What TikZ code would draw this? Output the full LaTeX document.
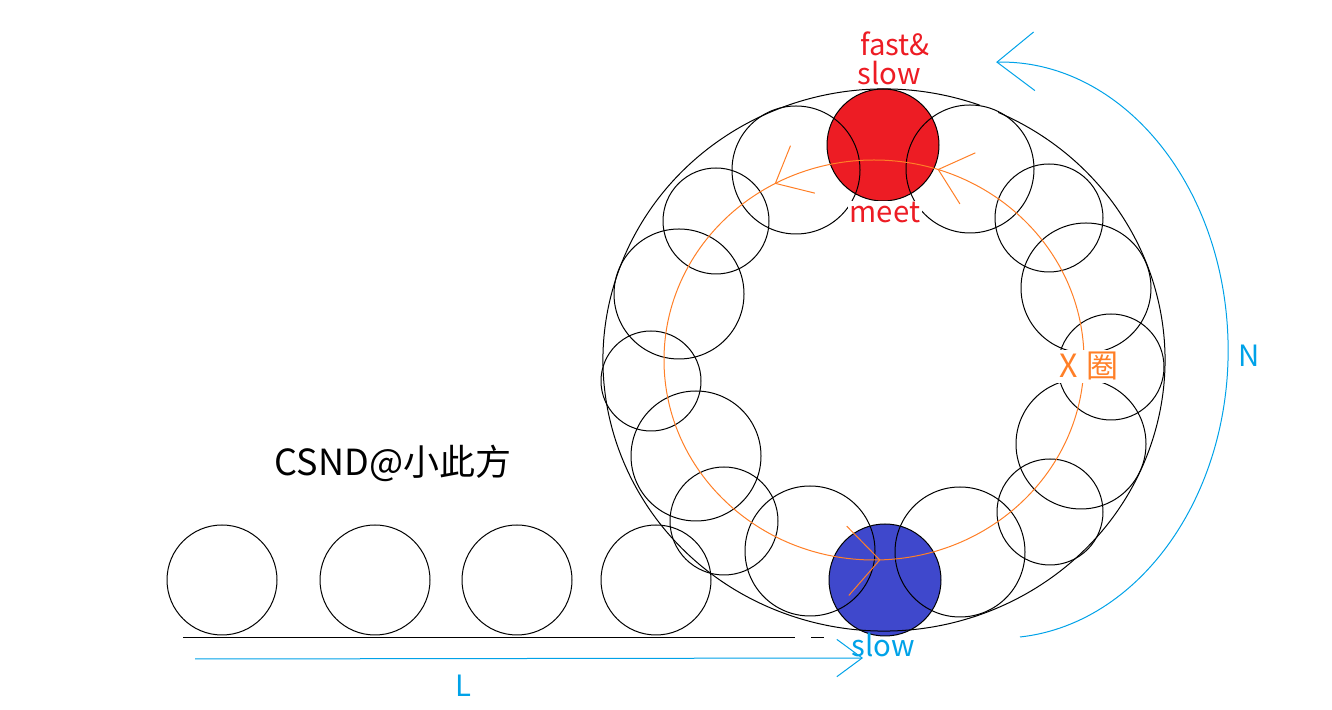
\documentclass[tikz,border=0pt]{standalone}
\usepackage{fontspec}
\setmainfont{Noto Sans CJK SC}
\usetikzlibrary{arrows.meta, decorations.markings}
\definecolor{ballred}{HTML}{ED1C24}
\definecolor{ballblue}{HTML}{3F48CC}
\definecolor{skyblue}{HTML}{00A2E8}
\definecolor{looporange}{HTML}{FF7F27}
\tikzstyle{ring} = [draw=black, line width=0.75pt]
\tikzstyle{ball} = [circle, draw=black, line width=0.75pt, minimum size=84pt, inner sep=0pt]
\tikzstyle{txt} = [inner sep=0pt, anchor=base, font=\fontsize{22}{22}\selectfont]
\tikzstyle{skyline} = [draw=skyblue, line width=0.75pt]
\tikzstyle{arrow} = [-{Straight Barb[length=19pt, width=28pt]}]

\begin{document}
\begin{tikzpicture}[x=0.75pt, y=0.75pt]
    \useasboundingbox (0,0) rectangle (1332,710);
    % the two balls
    \node[ball, fill=ballred] (fastball) at (883,565) {};
    \node[ball, fill=ballblue] (slowball) at (885,130) {};
    % straight part
    \foreach \cx in {222,375,517,656}
        \draw[ring] (\cx,130) circle (55);
    \coordinate (gleft) at (183,72);
    \coordinate (gright) at (795,72);
    \draw[ring] (gleft) -- (gright);
    \draw[ring] (811,72) -- (824,72);
    % the ring of balls
    \foreach \cx/\cy/\r in {796/540/64, 716/489/53, 679/416/65, 651/329/50,
                            696/254/65, 724/189/54, 810/159/65, 960/158/65,
                            1050/198/53, 1081/266/65, 1111/343/53, 1086/422/65,
                            1049/492/54, 970/541/64}
        \draw[ring] (\cx,\cy) circle (\r);
    \coordinate (hub) at (884,350);
    \draw[ring] (hub) ++(70:281 and 271) arc[start angle=70, end angle=426, x radius=281, y radius=271];
    % x laps
    \draw[draw=looporange, line width=0.75pt, postaction={decorate},
        decoration={markings,
            mark=at position 0.20 with {\arrow[looporange]{Straight Barb[length=23pt, width=40pt]}},
            mark=at position 0.33 with {\arrow[looporange]{Straight Barb[length=23pt, width=40pt]}},
            mark=at position 0.755 with {\arrow[looporange]{Straight Barb[length=24pt, width=52pt]}}}]
        (874,350) ellipse (210 and 200);
    % N and L
    \coordinate (nstart) at (1020,73);
    \draw[skyline, -{Straight Barb[length=28pt, width=44pt]}] (nstart) arc[start angle=-85, end angle=91, x radius=228, y radius=288];
    \coordinate (lstart) at (195,51);
    \coordinate (lend) at (863,52);
    \draw[skyline, arrow] (lstart) -- (lend);
    % texts
    \node[txt, text=ballred] (fasttxt) at (895,654) {fast\&};
    \node[txt, text=ballred] (slowtop) at (889,625) {slow};
    \node[txt, text=ballred, fill=white, inner sep=1pt] (meettxt) at (885,487) {meet};
    \node[txt, text=skyblue] (slowbottom) at (883,53) {slow};
    \node[txt, text=skyblue] (ltxt) at (463,13) {L};
    \node[txt, text=skyblue] (ntxt) at (1249,343) {N};
    \node[txt, text=looporange, fill=white, inner sep=2pt, font=\fontsize{24}{24}\selectfont] (xtxt) at (1089,332) {X\hspace{0.3em}圈};
    \node[txt, font=\fontsize{27}{27}\selectfont] (mark) at (393,234) {CSND@小此方};
\end{tikzpicture}
\end{document}
